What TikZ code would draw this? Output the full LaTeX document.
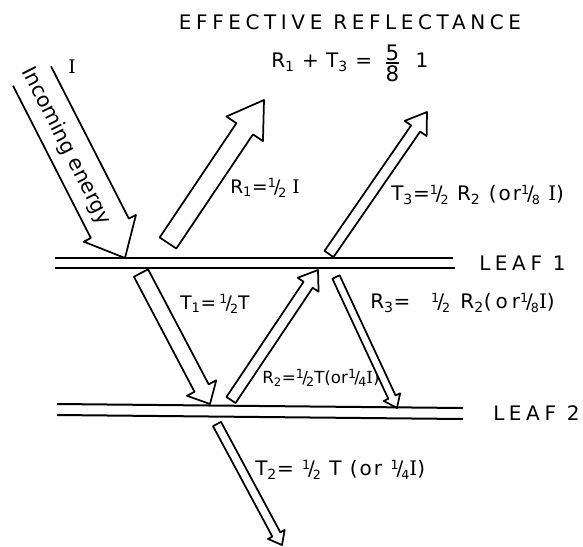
\documentclass[tikz,border=0pt]{standalone}
\usepackage{fontspec}
\setsansfont{DejaVu Sans}[LetterSpace=5]
\newfontfamily\capsfont{DejaVu Sans}[LetterSpace=23]
\newfontfamily\serifI{DejaVu Serif}
\usetikzlibrary{calc}

\newcommand{\II}{{\serifI I}}
\newcommand{\hfr}[2]{\raisebox{0.55ex}{\fontsize{9.5}{9.5}\selectfont#1}\kern-0.1em/\kern-0.1em\raisebox{-0.4ex}{\fontsize{9.5}{9.5}\selectfont#2}}
\newcommand{\hollowarrow}[6][-- cycle]{%
  \coordinate (hb) at ($(#3)!#6!(#2)$);
  \draw[fat] ($(#2)!#4!90:(#3)$) -- ($(hb)!#4!-90:(#2)$) -- ($(hb)!#5!-90:(#2)$)
    -- (#3) -- ($(hb)!#5!90:(#2)$) -- ($(hb)!#4!90:(#2)$) -- ($(#2)!#4!-90:(#3)$) #1;}

\begin{document}
\begin{tikzpicture}[x=0.75pt, y=-0.75pt, line join=round,
    fat/.style={line width=1.3pt},
    leaf/.style={line width=1.5pt},
    lbl/.style={font=\sffamily\fontsize{15}{17}\selectfont, inner sep=0pt, anchor=west},
    tight/.style={font=\sffamily\addfontfeature{LetterSpace=0}\fontsize{14}{16}\selectfont},
    spaced/.style={font=\sffamily\addfontfeature{LetterSpace=#1}\fontsize{15}{17}\selectfont},
    caps/.style={font=\capsfont\fontsize{15}{17}\selectfont, inner sep=0pt}]
    \useasboundingbox (0,0) rectangle (583,547);

    \draw[leaf] (55,258) -- (453,258);
    \draw[leaf] (55,268) -- (455,268);
    \draw[leaf] (57,404) -- (463,408);
    \draw[leaf] (57,415) -- (463,419);

    \coordinate (inTail) at (32,76);
    \coordinate (inTip) at (125,258);
    \coordinate (rOneTail) at (168,243);
    \coordinate (rOneTip) at (264,100);
    \coordinate (tOneTail) at (141,273);
    \coordinate (tOneTip) at (210,404);
    \coordinate (rTwoTail) at (231,400);
    \coordinate (rTwoTip) at (318,270);
    \coordinate (tThreeTail) at (329,254);
    \coordinate (tThreeTip) at (427,112);
    \coordinate (rThreeTail) at (336,277);
    \coordinate (rThreeTip) at (397,408);
    \coordinate (tTwoTail) at (217,424);
    \coordinate (tTwoTip) at (282,545);

    \hollowarrow[]{inTail}{inTip}{16pt}{22pt}{25pt}
    \hollowarrow{rOneTail}{rOneTip}{7.5pt}{16.5pt}{26pt}
    \hollowarrow{tOneTail}{tOneTip}{6pt}{12.4pt}{13.5pt}
    \hollowarrow{rTwoTail}{rTwoTip}{4.1pt}{9.4pt}{13.3pt}
    \hollowarrow{tThreeTail}{tThreeTip}{4.1pt}{10pt}{15pt}
    \hollowarrow{rThreeTail}{rThreeTip}{3pt}{6.8pt}{9pt}
    \hollowarrow{tTwoTail}{tTwoTip}{3.4pt}{7.1pt}{9pt}

    \node[caps] (title) at (350,22) {EFFECTIVE REFLECTANCE};
    \node[lbl] (total) at (271,63) {R\textsubscript{1} + T\textsubscript{3} =\hspace{9pt}${\mbox{\fontsize{16}{16}\selectfont 5}\above 1.2pt\mbox{\fontsize{16}{16}\selectfont 8}}$\hspace{11pt}1};
    \node[font=\serifI\fontsize{14}{16}\selectfont, inner sep=0pt] (intensity) at (72,67) {I};
    \node[font=\sffamily\addfontfeature{LetterSpace=0}\fontsize{15.5}{17}\selectfont, inner sep=0pt, rotate=-63] (incoming) at (66,146) {Incoming energy};

    \node[lbl, tight] (rOne) at (230,188) {R\textsubscript{1}=\hfr{1}{2} \II};
    \node[lbl, spaced=10] (tThree) at (391,195) {T\textsubscript{3}=\hfr{1}{2} R\textsubscript{2} (or\hfr{1}{8} \II)};
    \node[caps, anchor=west] (leafOne) at (479,263) {LEAF 1};
    \node[lbl, tight] (tOne) at (180,304) {T\textsubscript{1}=\,\hfr{1}{2}T};
    \node[lbl, spaced=20] (rThree) at (370,303) {R\textsubscript{3}=\ \ \hfr{1}{2} R\textsubscript{2}(or\hfr{1}{8}\II)};
    \node[lbl, tight, font=\sffamily\addfontfeature{LetterSpace=0}\fontsize{12.5}{14}\selectfont] (rTwo) at (262,378) {R\textsubscript{2}=\hfr{1}{2}T(or\hfr{1}{4}\II)};
    \node[caps, anchor=west] (leafTwo) at (493,413) {LEAF 2};
    \node[lbl, spaced=10] (tTwo) at (255,470) {T\textsubscript{2}= \hfr{1}{2} T (or \hfr{1}{4}\II)};
\end{tikzpicture}
\end{document}
